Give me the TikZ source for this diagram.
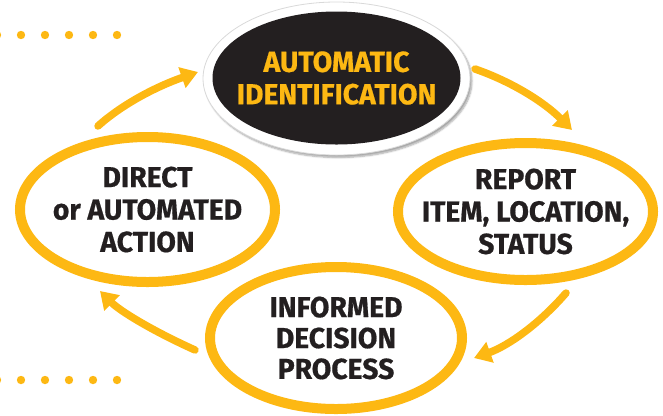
\documentclass[tikz,border=0pt]{standalone}
\usepackage{fontspec}
\newfontfamily\lblfont{Fira Sans}[FakeStretch=0.98,FakeBold=0.6]
\usetikzlibrary{shapes.geometric,arrows.meta,shadows.blur}
\definecolor{gold}{RGB}{253,184,19}
\definecolor{ink}{RGB}{35,31,32}
\begin{document}
\begin{tikzpicture}[x=1bp,y=-1bp,
  softshadow/.style={blur shadow={shadow xshift=2bp, shadow yshift=-2.5bp, shadow blur steps=6, shadow opacity=35}},
  ring/.style={ellipse, draw=gold, line width=10bp, fill=white, inner sep=0, softshadow},
  lbl/.style={font=\lblfont\bfseries\fontsize{29}{32.5}\selectfont, text=ink, align=center, inner sep=0},
  arc/.style={draw=gold, line width=7.5bp, line cap=round, -{Triangle[length=17bp,width=21bp]}},
  dotmark/.style={fill=gold}]
\useasboundingbox (0,0) rectangle (663,415);
% dotted rows
\foreach \x in {-3,21,45,69,93,117} {
  \fill[dotmark] (\x,35) circle[radius=4.2bp];
  \fill[dotmark] (\x,380) circle[radius=4.2bp];
}
% ellipses
\node[ring, minimum width=255bp, minimum height=145bp] (left) at (147.5,209.5) {};
\node[ring, minimum width=255bp, minimum height=137bp] (right) at (525.5,211.5) {};
\node[ring, minimum width=252bp, minimum height=142bp] (bottom) at (336,338) {};
\node[ellipse, fill=white, draw=black!15, line width=0.8bp, minimum width=267bp, minimum height=153bp, inner sep=0, softshadow] (topring) at (336.5,78.5) {};
\node[ellipse, fill=ink, minimum width=248bp, minimum height=133bp, inner sep=0] (top) at (336.5,78) {};
% labels
\node[lbl, text=gold] (topT) at (top) {AUTOMATIC\\IDENTIFICATION};
\node[lbl] (leftT) at (left) {DIRECT\\or AUTOMATED\\ACTION};
\node[lbl] (rightT) at (right) {REPORT\\ITEM, LOCATION,\\STATUS};
\node[lbl, font=\lblfont\bfseries\fontsize{29}{31}\selectfont] (bottomT) at (bottom) {INFORMED\\DECISION\\PROCESS};
% arrows
\coordinate (a1s) at (98,126);  \coordinate (a1e) at (198,72);
\coordinate (a2s) at (475,69);  \coordinate (a2e) at (572,130);
\coordinate (a3s) at (566,293); \coordinate (a3e) at (474,358);
\coordinate (a4s) at (195,350); \coordinate (a4e) at (100,291);
\draw[arc] (a1s) .. controls (121,105.3) and (154.3,87.3) .. (a1e);
\draw[arc] (a2s) .. controls (511.7,81.7) and (544,102) .. (a2e);
\draw[arc] (a3s) .. controls (539.1,324) and (508.4,345.7) .. (a3e);
\draw[arc] (a4s) .. controls (151.3,330.3) and (119.7,310.7) .. (a4e);
\end{tikzpicture}
\end{document}
